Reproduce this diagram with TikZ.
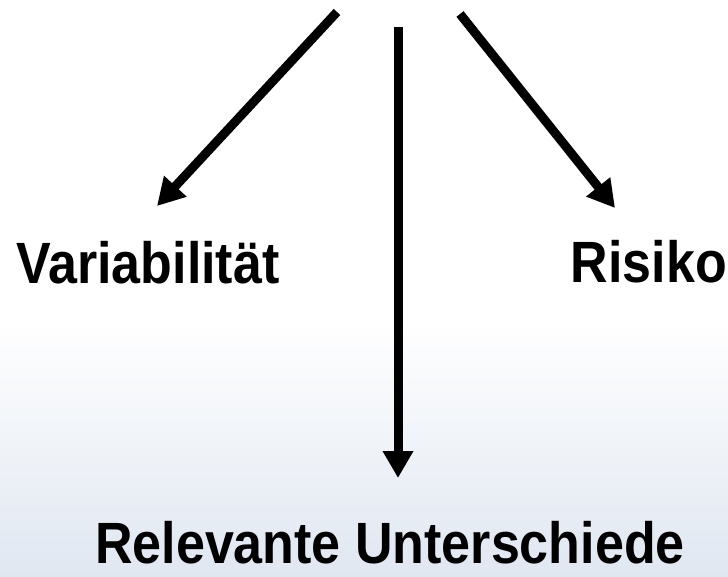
\documentclass[tikz,border=0pt]{standalone}
\usepackage{fontspec}
\setmainfont{Liberation Sans}
\usetikzlibrary{positioning,arrows.meta}
\definecolor{bgblue}{RGB}{224,231,241}
\tikzset{
  lbl/.style ={font=\fontsize{52}{60}\selectfont\bfseries, inner sep=0pt,
               anchor=base, yscale=1.12},
  fl/.style  ={-{Triangle[length=27pt,width=29pt]}, line width=9pt},
}

\begin{document}
\begin{tikzpicture}[x=1pt,y=-1pt]
  \useasboundingbox (0,0) rectangle (728,576);
  % background, white on top, faint blue towards the bottom
  \fill[white] (0,0) rectangle (728,320);
  \shade[top color=white, bottom color=bgblue] (0,320) rectangle (728,576);

  % labels
  \node[lbl] (var)  at (148,283) {Variabilität};
  \node[lbl] (risk) at (649,282) {Risiko};
  \node[lbl] (rel)  at (390,563) {Relevante Unterschiede};

  % arrow ends
  \coordinate (srcL) at (337,12);
  \coordinate (srcM) at (398,27);
  \coordinate (srcR) at (460,14);
  \coordinate (tipL) at (157,206);
  \coordinate (tipM) at (398,478);
  \coordinate (tipR) at (615,208);

  % arrows
  \draw[fl](srcL)--(tipL);
  \draw[fl](srcM)--(tipM);
  \draw[fl](srcR)--(tipR);
\end{tikzpicture}
\end{document}
